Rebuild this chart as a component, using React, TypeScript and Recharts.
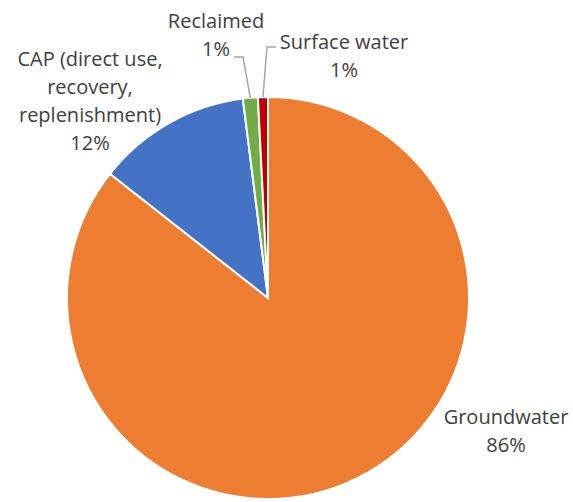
import React from "react";
import { PieChart, Pie, Cell } from "recharts";

// Water supply sources, share of total (%)
const sources = ["Groundwater", "CAP (direct use, recovery, replenishment)", "Reclaimed", "Surface water"];
const shares = [85.6, 12.4, 1.2, 0.8];
const colors = ["#ED7D31", "#4472C4", "#70AD47", "#C00000"];

const data = sources.map((name, i) => ({ name, value: shares[i] }));

const WIDTH = 573;
const HEIGHT = 502;
const FONT = "'Open Sans', 'Noto Sans', sans-serif";
const TEXT_COLOR = "#404040";
const FONT_SIZE = 20;
const LINE_H = 28;

// Label placement relative to the pie centre; `elbow` marks the bend of a leader line.
const labelLayout: Record<string, { dx: number; dy: number; elbow?: [number, number]; tail?: number }> = {
  "Groundwater": { dx: 238, dy: 118 },
  "CAP (direct use, recovery, replenishment)": { dx: -178, dy: -240 },
  "Reclaimed": { dx: -52, dy: -278, elbow: [-25, -241], tail: -9 },
  "Surface water": { dx: 76, dy: -257, elbow: [-1, -251], tail: 9 },
};

function wrap(text: string, max: number): string[] {
  const words = text.split(" ");
  const lines: string[] = [];
  let cur = "";
  for (const w of words) {
    const next = cur ? cur + " " + w : w;
    if (next.length > max && cur) {
      lines.push(cur);
      cur = w;
    } else {
      cur = next;
    }
  }
  if (cur) lines.push(cur);
  return lines;
}

const RADIAN = Math.PI / 180;

function renderLabel(props: any) {
  const { cx, cy, midAngle, outerRadius, name, percent } = props;
  const layout = labelLayout[name];
  if (!layout) return null;
  const lines = [...wrap(name, 16), `${Math.round(percent * 100)}%`];
  const x = cx + layout.dx;
  const y = cy + layout.dy;
  let leader = null;
  if (layout.elbow) {
    const sx = cx + outerRadius * Math.cos(-midAngle * RADIAN);
    const sy = cy + outerRadius * Math.sin(-midAngle * RADIAN);
    const ex = cx + layout.elbow[0];
    const ey = cy + layout.elbow[1];
    leader = (
      <polyline
        points={`${sx},${sy} ${ex},${ey} ${ex + (layout.tail || 0)},${ey}`}
        fill="none"
        stroke="#A6A6A6"
        strokeWidth={1.5}
      />
    );
  }
  return (
    <g>
      {leader}
      {lines.map((ln, i) => (
        <text
          key={i}
          x={x}
          y={y + i * LINE_H}
          textAnchor="middle"
          dominantBaseline="central"
          fill={TEXT_COLOR}
          fontFamily={FONT}
          fontSize={FONT_SIZE}
        >
          {ln}
        </text>
      ))}
    </g>
  );
}

export default function App() {
  return (
    <div style={{ position: "absolute", left: 0, top: 0, width: WIDTH, height: HEIGHT, background: "#fff" }}>
      <PieChart width={WIDTH} height={HEIGHT} margin={{ top: 0, right: 0, bottom: 0, left: 0 }}>
        <Pie
          data={data}
          dataKey="value"
          nameKey="name"
          cx={268}
          cy={298}
          outerRadius={201}
          startAngle={90}
          endAngle={-270}
          stroke="#FFFFFF"
          strokeWidth={2}
          label={renderLabel}
          labelLine={false}
          isAnimationActive={false}
        >
          {data.map((d, i) => (
            <Cell key={d.name} fill={colors[i]} />
          ))}
        </Pie>
      </PieChart>
    </div>
  );
}
